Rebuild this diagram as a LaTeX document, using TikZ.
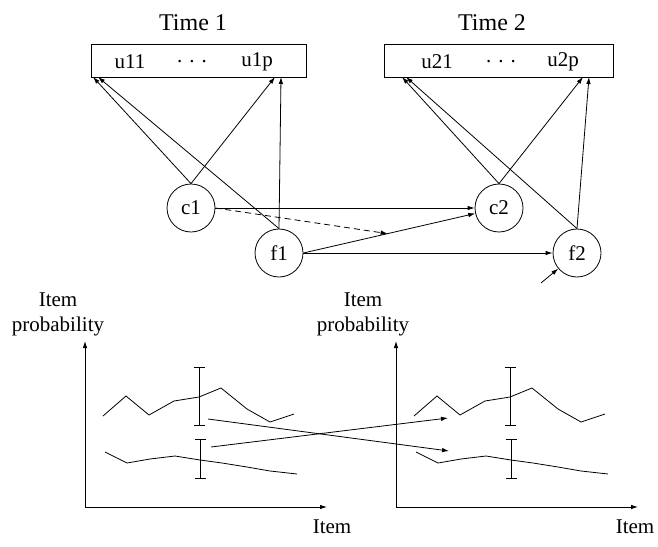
\documentclass[tikz,border=0pt]{standalone}
\usepackage{fontspec}
\setmainfont{Liberation Serif}
\usetikzlibrary{positioning,arrows.meta,calc}
\newcommand{\lblfont}{\fontsize{21}{25}\selectfont}
\newcommand{\timefont}{\fontsize{24}{28}\selectfont}

\begin{document}
\begin{tikzpicture}[x=1pt,y=-1pt,line width=0.8pt,
  >={Latex[length=7pt,width=4.5pt]},
  lbl/.style={font=\lblfont,inner sep=1pt},
  latent/.style={draw,circle,minimum size=48pt,inner sep=0pt,font=\lblfont},
  ebar/.style={{Bar[width=11pt]}-{Bar[width=11pt]}}]
\useasboundingbox (0,0) rectangle (658,546);
% indicator boxes at the two occasions
\node[font=\timefont] (time1) at (193,23) {Time 1};
\node[font=\timefont] (time2) at (492,23) {Time 2};
\node[draw,minimum width=215pt,minimum height=33pt] (box1) at (198.5,60.5) {};
\node[draw,minimum width=229pt,minimum height=33pt] (box2) at (498.5,60.5) {};
\node[lbl] (u11) at (130,62) {u11};
\node[lbl] (dots1) at (192,62) {. . .};
\node[lbl] (u1p) at (257,62) {u1p};
\node[lbl] (u21) at (437,62) {u21};
\node[lbl] (dots2) at (501,62) {. . .};
\node[lbl] (u2p) at (563,62) {u2p};
\coordinate (u11c) at (93,77); \coordinate (u11f) at (98,77);
\coordinate (u1pc) at (275,77); \coordinate (u1pf) at (281,77);
\coordinate (u21c) at (402,77); \coordinate (u21f) at (406,77);
\coordinate (u2pc) at (583,77); \coordinate (u2pf) at (589,77);
% latent variables
\node[latent] (c1) at (191,208) {c1};
\node[latent] (c2) at (499,208) {c2};
\node[latent] (f1) at (279,253) {f1};
\node[latent] (f2) at (577,253) {f2};
\coordinate (e2) at (541,283);
% loadings
\draw[->] (c1.north) -- (u11c);
\draw[->] (c1.north) -- (u1pc);
\draw[->] (f1.north) -- (u11f);
\draw[->] (f1.north) -- (u1pf);
\draw[->] (c2.north) -- (u21c);
\draw[->] (c2.north) -- (u2pc);
\draw[->] (f2.north) -- (u21f);
\draw[->] (f2.north) -- (u2pf);
% structural paths
\draw[->] (c1.east) -- (c2.west);
\draw[->] (f1.east) -- coordinate[pos=0.49] (fcmid) (c2);
\draw[->] (f1.east) -- (f2.west);
\draw[->,dash pattern=on 6pt off 4pt] (c1.east) -- (fcmid);
\draw[->] (e2) -- (f2);
% item probability profiles
\foreach \dx/\t/\ly/\lx in {0/1/58/332,311/2/52/324} {
  \begin{scope}[xshift=\dx pt]
    \coordinate (o\t) at (85,507);
    \draw[->] (o\t) -- (85,341);
    \draw[->] (o\t) -- (327,507);
    \node[lbl,align=center] (yl\t) at (\ly,314.5) {Item\\probability};
    \node[lbl] (xl\t) at (\lx,527) {Item};
    \draw plot coordinates {(103,416) (126,396) (149,415) (174,401) (199,397) (221,388) (247,409) (270,422) (294,414)};
    \draw plot coordinates {(105,452) (127,463) (150,459) (175,456) (200,460) (222,463) (247,467) (270,471) (297,474)};
    \draw[ebar] (199,367) -- (199,426);
    \draw[ebar] (200,439) -- (200,479);
  \end{scope}
}
\coordinate (p1hi) at (208,419); \coordinate (p1lo) at (211,447);
\coordinate (p2hi) at (448,418); \coordinate (p2lo) at (449,451);
\draw[->] (p1hi) -- (p2lo);
\draw[->] (p1lo) -- (p2hi);
\end{tikzpicture}
\end{document}
